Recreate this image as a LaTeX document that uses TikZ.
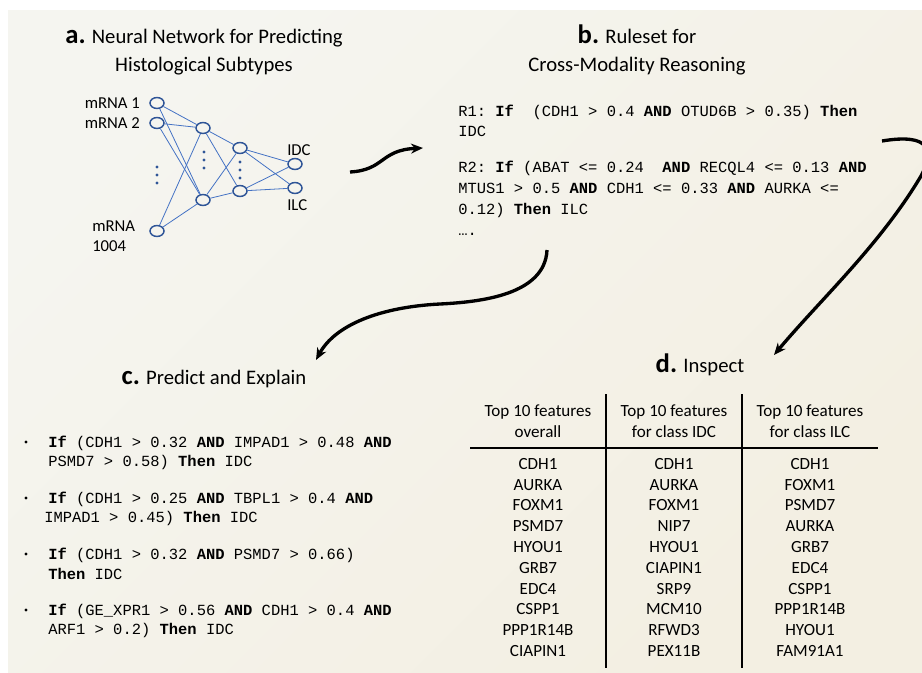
\documentclass[tikz,border=0pt]{standalone}
\usepackage{fontspec}
\setmainfont{Carlito}
\setmonofont{Liberation Mono}
\usetikzlibrary{arrows.meta,shapes.geometric}
\definecolor{panelA}{RGB}{245,245,240}
\definecolor{panelB}{RGB}{243,239,226}
\definecolor{nnline}{RGB}{68,114,196}
\definecolor{nnnode}{RGB}{47,85,151}
\newcommand{\plabel}[1]{{\fontsize{20}{20}\selectfont\bfseries #1}}
\newcommand{\kw}[1]{\textbf{#1}}
\begin{document}
\begin{tikzpicture}[x=0.75pt,y=-0.75pt,
  title/.style={font=\fontsize{15.5}{19}\selectfont,anchor=base,inner sep=0pt},
  unit/.style={ellipse,draw=nnnode,line width=1.1pt,minimum width=10.5pt,minimum height=8.2pt,inner sep=0pt},
  edge/.style={nnline,line width=0.6pt},
  lab/.style={font=\fontsize{12.5}{15}\selectfont,inner sep=0pt},
  code/.style={font=\ttfamily\fontsize{11.6}{14}\selectfont,anchor=base west,inner sep=0pt},
  cell/.style={font=\fontsize{12.8}{15}\selectfont,anchor=base,inner sep=0pt},
  flow/.style={line width=2.5pt,-{Stealth[length=9pt,width=7.5pt]}}]
\useasboundingbox (0,0) rectangle (922,672);
\shade[top color=panelA,bottom color=panelB,shading angle=45] (8,10) rectangle (922,672);

% a. network
\node[title] (ta1) at (204,43) {\plabel{a.} Neural Network for Predicting};
\node[title] (ta2) at (204,71) {Histological Subtypes};
\node[unit] (in1) at (157,103) {};
\node[unit] (in2) at (157,123) {};
\node[unit] (in3) at (157,231) {};
\node[unit] (h1a) at (203,128) {};
\node[unit] (h1b) at (203,200) {};
\node[unit] (h2a) at (240,148) {};
\node[unit] (h2b) at (240,191) {};
\node[unit] (idc) at (295,164) {};
\node[unit] (ilc) at (295,188) {};
\foreach \s in {in1,in2,in3} \foreach \t in {h1a,h1b} \draw[edge] (\s) -- (\t);
\foreach \s in {h1a,h1b} \foreach \t in {h2a,h2b} \draw[edge] (\s) -- (\t);
\foreach \s in {h2a,h2b} \foreach \t in {idc,ilc} \draw[edge] (\s) -- (\t);
\foreach \x/\y in {157/167,157/175,157/183,204/152,204/160,204/168,240/162,240/170,240/178}
  \fill[nnnode] (\x,\y) circle (1.3pt);
\node[lab,anchor=base east] (lin1) at (140,108) {mRNA 1};
\node[lab,anchor=base east] (lin2) at (140,128) {mRNA 2};
\node[lab,anchor=base west] (lin3) at (92,231) {mRNA};
\node[lab,anchor=base west] (lin4) at (92,251) {1004};
\node[lab,anchor=base west] (lidc) at (287,155) {IDC};
\node[lab,anchor=base west] (lilc) at (287,210) {ILC};

% b. ruleset
\node[title] (tb1) at (637,43) {\plabel{b.} Ruleset for};
\node[title] (tb2) at (637,71) {Cross-Modality Reasoning};
\foreach \y/\t [count=\i] in {116/{R1: \kw{If}~ (CDH1 > 0.4 \kw{AND} OTUD6B > 0.35) \kw{Then}},
    136/{IDC},
    172/{R2: \kw{If} (ABAT <= 0.24~ \kw{AND} RECQL4 <= 0.13 \kw{AND}},
    193/{MTUS1 > 0.5 \kw{AND} CDH1 <= 0.33 \kw{AND} AURKA <=},
    214/{0.12) \kw{Then} ILC},
    235/{….}}
  \node[code] (rb\i) at (458,\y) {\t};

% c. predict and explain
\node[title] (tc) at (214,384) {\plabel{c.} Predict and Explain};
\foreach \y in {442,498,554,610} \fill (26,\y) circle (1.3pt);
\foreach \x/\y/\t [count=\i] in {48/447/{\kw{If} (CDH1 > 0.32 \kw{AND} IMPAD1 > 0.48 \kw{AND}},
    48/466/{PSMD7 > 0.58) \kw{Then} IDC},
    48/503/{\kw{If} (CDH1 > 0.25 \kw{AND} TBPL1 > 0.4 \kw{AND}},
    44/522/{IMPAD1 > 0.45) \kw{Then} IDC},
    48/559/{\kw{If} (CDH1 > 0.32 \kw{AND} PSMD7 > 0.66)},
    48/579/{\kw{Then} IDC},
    48/615/{\kw{If} (GE\_XPR1 > 0.56 \kw{AND} CDH1 > 0.4 \kw{AND}},
    48/634/{ARF1 > 0.2) \kw{Then} IDC}}
  \node[code] (rc\i) at (\x,\y) {\t};

% d. inspect
\node[title] (td) at (700,372) {\plabel{d.} Inspect};
\draw[line width=1.1pt] (606,394) -- (606,668);
\draw[line width=1.1pt] (742,394) -- (742,668);
\draw[line width=1.1pt] (470,448) -- (878,448);
\node[cell] (hd1a) at (538,416) {Top 10 features};
\node[cell] (hd1b) at (538,437) {overall};
\node[cell] (hd2a) at (674,416) {Top 10 features};
\node[cell] (hd2b) at (674,437) {for class IDC};
\node[cell] (hd3a) at (810,416) {Top 10 features};
\node[cell] (hd3b) at (810,437) {for class ILC};
\foreach \g [count=\i] in {CDH1,AURKA,FOXM1,PSMD7,HYOU1,GRB7,EDC4,CSPP1,PPP1R14B,CIAPIN1}
  \node[cell] (all\i) at (538,{469.3+20.8*(\i-1)}) {\g};
\foreach \g [count=\i] in {CDH1,AURKA,FOXM1,NIP7,HYOU1,CIAPIN1,SRP9,MCM10,RFWD3,PEX11B}
  \node[cell] (idc\i) at (674,{469.3+20.8*(\i-1)}) {\g};
\foreach \g [count=\i] in {CDH1,FOXM1,PSMD7,AURKA,GRB7,EDC4,CSPP1,PPP1R14B,HYOU1,FAM91A1}
  \node[cell] (ilc\i) at (810,{469.3+20.8*(\i-1)}) {\g};

% flow arrows
\coordinate (aout) at (350,172);
\coordinate (bin) at (423,148);
\coordinate (bout) at (547,250);
\coordinate (cin) at (316,360);
\coordinate (bside) at (882,141);
\coordinate (din) at (774,355);
\draw[flow] (aout) .. controls (385,170) and (380,150) .. (bin);
\draw[flow] (bout) .. controls (545,295) and (480,302) .. (440,304) .. controls (380,307) and (335,325) .. (cin);
\draw[flow] (bside) .. controls (930,133) and (935,150) .. (921,176) .. controls (880,245) and (820,300) .. (din);
\end{tikzpicture}
\end{document}
